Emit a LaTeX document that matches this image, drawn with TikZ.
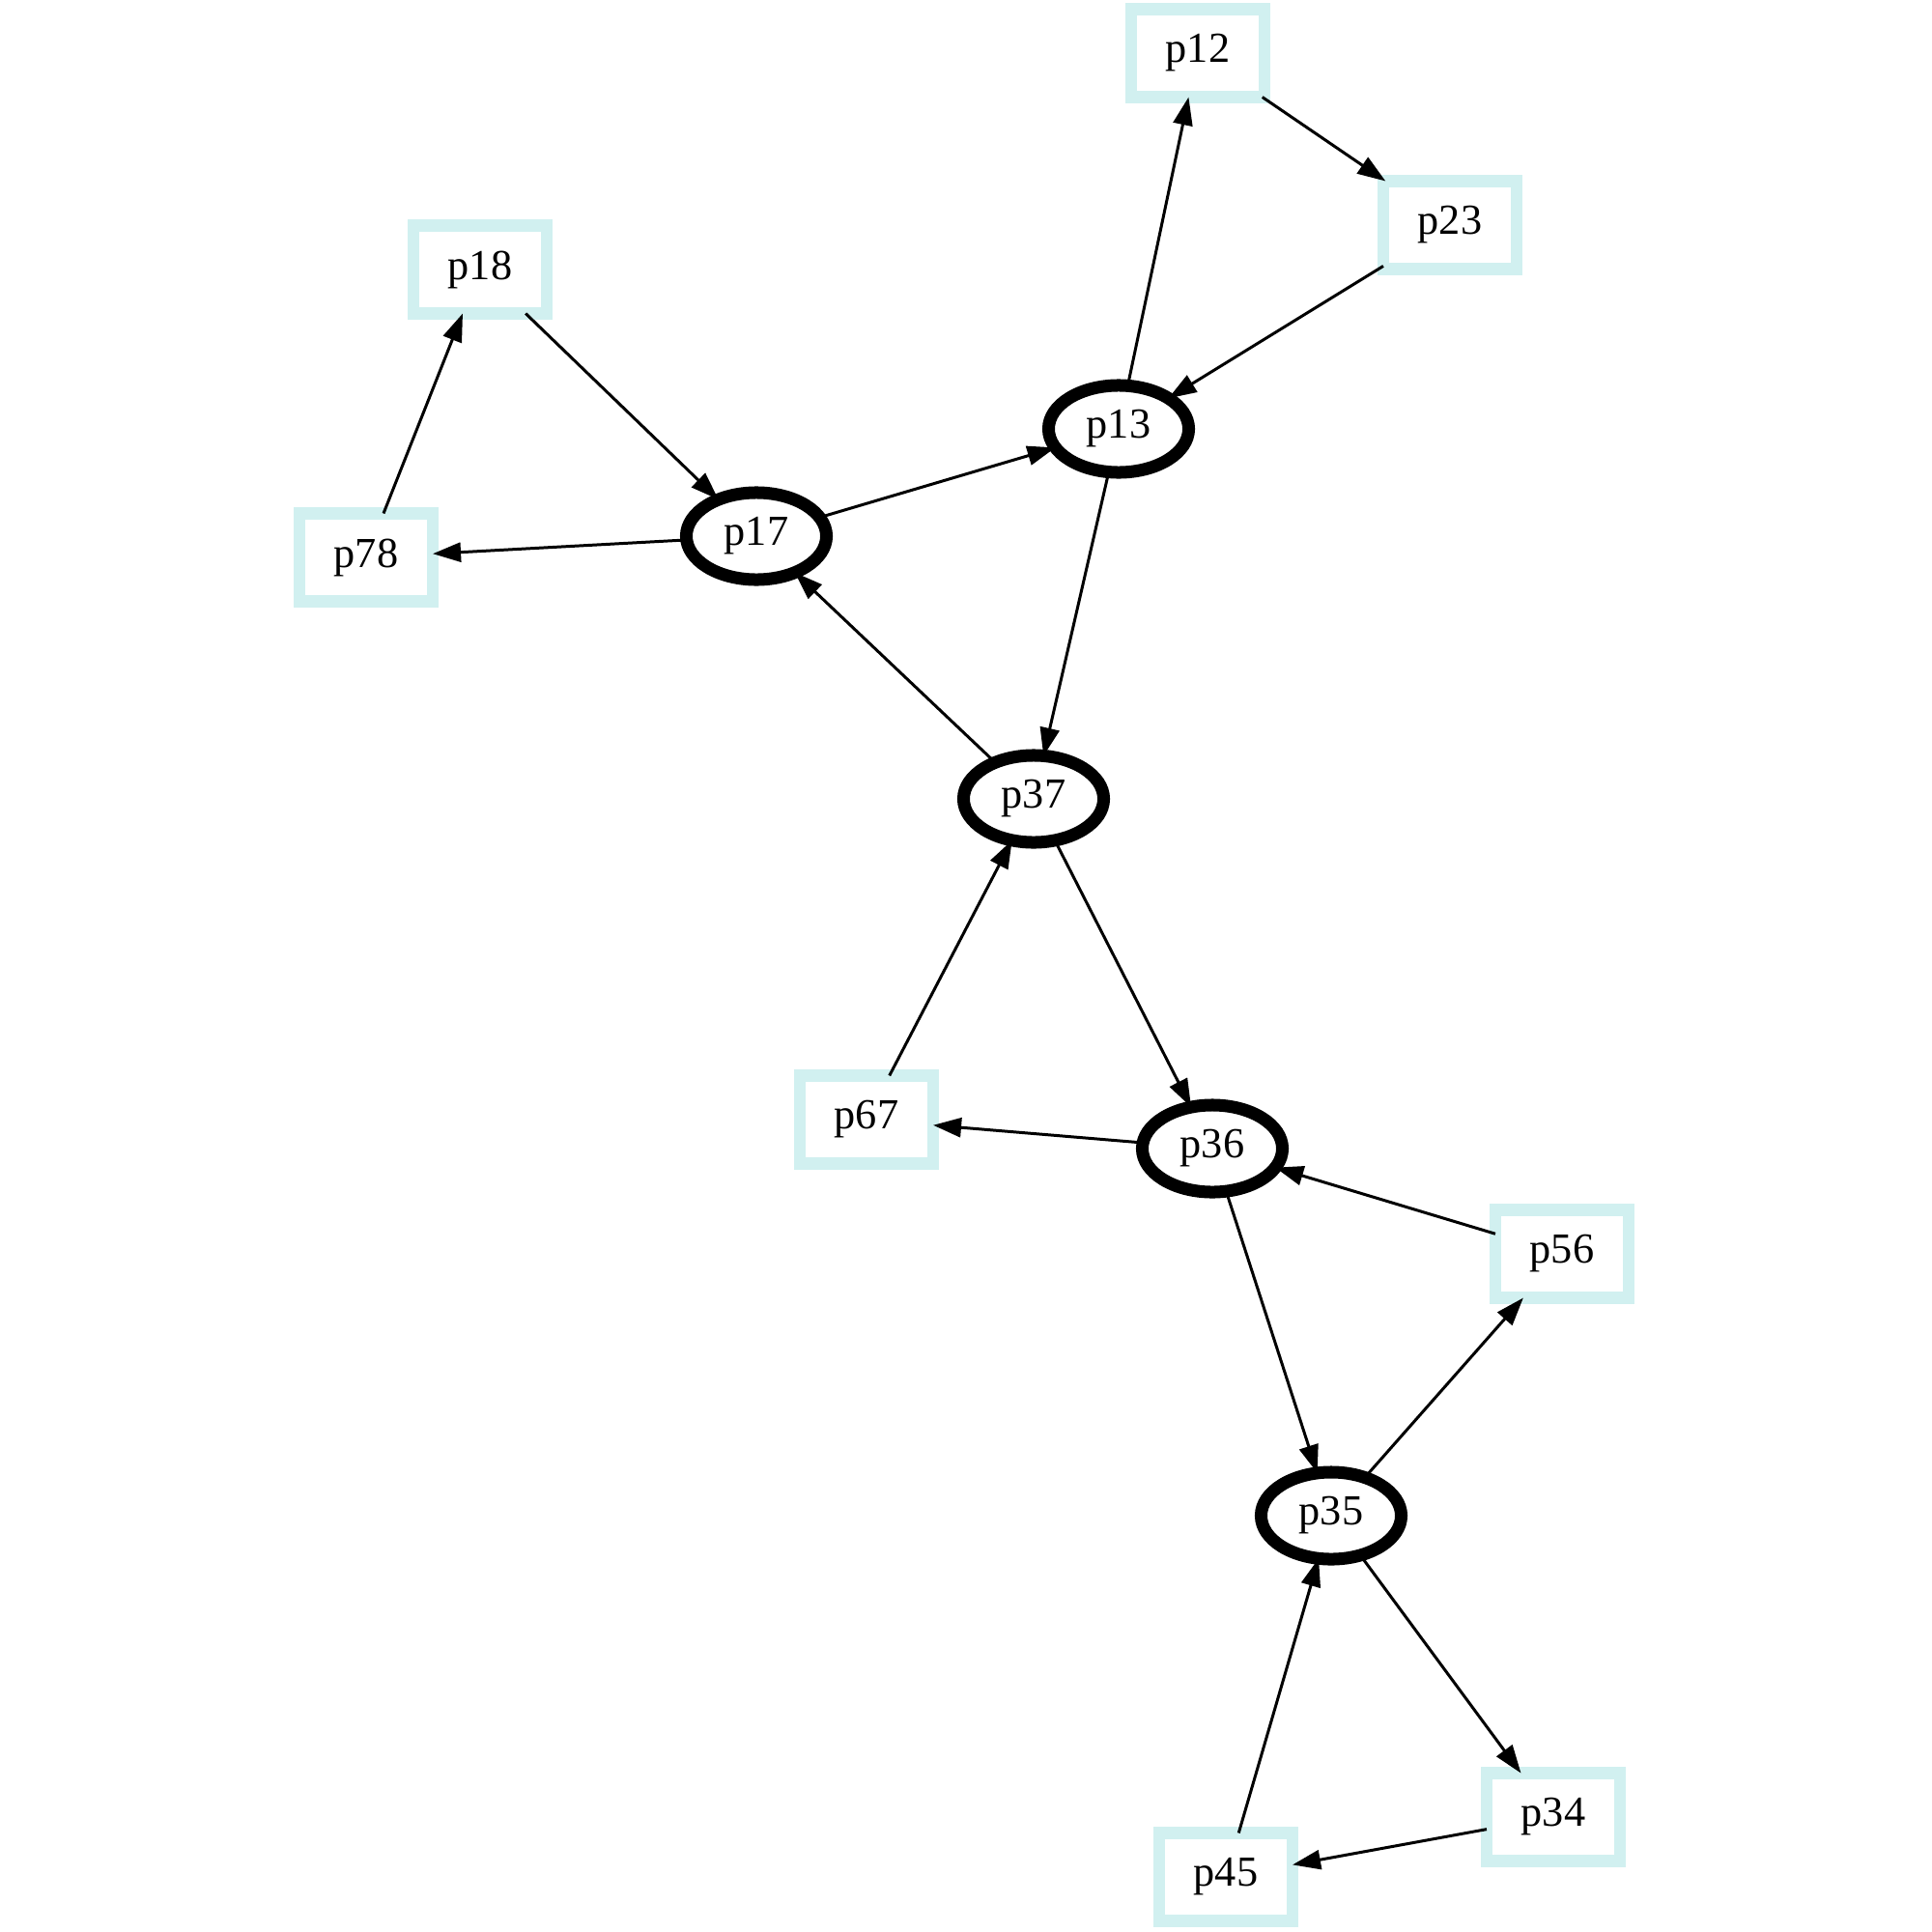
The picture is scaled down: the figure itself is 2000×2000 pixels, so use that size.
\documentclass[tikz,border=0pt]{standalone}
\usepackage{fontspec}
\setmainfont{Liberation Serif}
\usetikzlibrary{arrows.meta,shapes.geometric}
\definecolor{boxcyan}{RGB}{209,240,240}
\begin{document}
\begin{tikzpicture}[x=0.01cm,y=-0.01cm,
  font=\fontsize{12.6}{14}\selectfont,
  place/.style={draw=boxcyan, line width=3.5pt, rectangle, fill=white,
    minimum width=1.38cm, minimum height=0.91cm, inner sep=0pt, outer sep=0pt},
  hub/.style={draw=black, line width=3.7pt, ellipse, fill=white,
    minimum width=1.45cm, minimum height=0.90cm, inner sep=0pt, outer sep=0pt},
  link/.style={draw=black, line width=0.85pt,
    -{Triangle[length=0.29cm, width=0.2cm]}}]
\useasboundingbox (0,0) rectangle (2000,2000);

% square nodes
\node[place] (p12) at (1240,55) {p12};
\node[place] (p23) at (1501,233) {p23};
\node[place] (p18) at (497,279) {p18};
\node[place] (p78) at (379,577) {p78};
\node[place] (p67) at (897,1159) {p67};
\node[place] (p56) at (1617,1298) {p56};
\node[place] (p34) at (1608,1881) {p34};
\node[place] (p45) at (1269,1943) {p45};

% oval nodes
\node[hub] (p13) at (1158,444) {p13};
\node[hub] (p17) at (783,555) {p17};
\node[hub] (p37) at (1070,827) {p37};
\node[hub] (p36) at (1255,1189) {p36};
\node[hub] (p35) at (1378,1569) {p35};

% connectors
\draw[link] (p13) -- (p12);
\draw[link] (p12) -- (p23);
\draw[link] (p23) -- (p13);
\draw[link] (p18) -- (p17);
\draw[link] (p78) -- (p18);
\draw[link] (p17) -- (p78);
\draw[link] (p17) -- (p13);
\draw[link] (p13) -- (p37);
\draw[link] (p37) -- (p17);
\draw[link] (p37) -- (p36);
\draw[link] (p67) -- (p37);
\draw[link] (p36) -- (p67);
\draw[link] (p56) -- (p36);
\draw[link] (p36) -- (p35);
\draw[link] (p35) -- (p56);
\draw[link] (p35) -- (p34);
\draw[link] (p34) -- (p45);
\draw[link] (p45) -- (p35);
\end{tikzpicture}
\end{document}
